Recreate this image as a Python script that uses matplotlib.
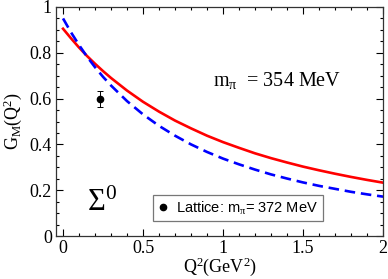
import matplotlib.pyplot as plt
from matplotlib.ticker import MultipleLocator
import numpy as np

plt.rcParams['font.family'] = ['Liberation Serif', 'DejaVu Serif']
plt.rcParams['mathtext.fontset'] = 'custom'
plt.rcParams['mathtext.rm'] = 'Liberation Serif'
plt.rcParams['mathtext.it'] = 'Liberation Serif'

# data
q2 = [0.0, 0.05, 0.1, 0.15, 0.2, 0.25, 0.3, 0.4, 0.5, 0.6, 0.7, 0.8, 0.9,
      1.0, 1.1, 1.2, 1.3, 1.4, 1.5, 1.6, 1.7, 1.8, 1.9, 2.0]
gm_red = [0.905, 0.863, 0.823, 0.786, 0.752, 0.720, 0.690, 0.635, 0.586,
          0.543, 0.504, 0.470, 0.438, 0.410, 0.385, 0.361, 0.340, 0.321,
          0.303, 0.287, 0.272, 0.258, 0.245, 0.233]
gm_blue = [0.950, 0.889, 0.834, 0.783, 0.737, 0.695, 0.657, 0.589, 0.531,
           0.481, 0.438, 0.400, 0.367, 0.338, 0.313, 0.290, 0.269, 0.251,
           0.234, 0.219, 0.206, 0.193, 0.182, 0.172]
lat_q2 = [0.232]
lat_gm = [0.598]
lat_err = [0.036]

fig = plt.figure(figsize=(3.88, 2.79), dpi=100)
ax = fig.add_axes([0.1443, 0.154, 0.843, 0.821])

ax.plot(q2, gm_red, color='#ff0000', lw=1.9)
ax.plot(q2, gm_blue, color='#0000ff', lw=1.9, ls=(0, (4, 2.2)))
ax.errorbar(lat_q2, lat_gm, yerr=lat_err, fmt='o', color='black', ms=4.5,
            elinewidth=0.7, capsize=2.2, capthick=0.7)
# legend entry: plain dot only
ax.plot([], [], 'o', color='black', ms=4.5,
        label=r'Lattice: m$_{\pi}$= 372 MeV')

ax.set_xlim(-0.044, 2.0)
ax.set_ylim(0, 1)
ax.xaxis.set_minor_locator(MultipleLocator(0.1))
ax.yaxis.set_minor_locator(MultipleLocator(0.05))
ax.set_xticks([0, 0.5, 1, 1.5, 2])
ax.set_xticklabels(['0', '0.5', '1', '1.5', '2'])
ax.set_yticks([0, 0.2, 0.4, 0.6, 0.8, 1])
ax.set_yticklabels(['0', '0.2', '0.4', '0.6', '0.8', '1'])
ax.tick_params(which='both', direction='in', top=True, right=True,
               labelsize=13, pad=3)
ax.tick_params(which='major', length=5, width=0.8)
ax.tick_params(which='minor', length=2.5, width=0.8)
for s in ax.spines.values():
    s.set_color('#333333')
    s.set_linewidth(0.9)

ax.set_xlabel(r'Q$^2$(GeV$^2$)', fontsize=13, labelpad=-1)
ax.set_ylabel(r'G$_M$(Q$^2$)', fontsize=13, labelpad=4)

ax.text(0.94, 0.68, r'm$_{\pi}$  = 354 MeV', fontsize=14.5, va='center')
ax.text(0.15, 0.11, r'$\Sigma^0$', fontsize=22)

leg = ax.legend(loc='lower left', bbox_to_anchor=(0.297, 0.066),
                prop={'family': 'Liberation Sans', 'size': 10.5},
                frameon=True, fancybox=False, handlelength=0.8,
                handletextpad=0.5, borderpad=0.3, borderaxespad=0)
leg.get_frame().set_edgecolor('#555555')
leg.get_frame().set_linewidth(0.9)

fig.savefig('out.png', dpi=100)
